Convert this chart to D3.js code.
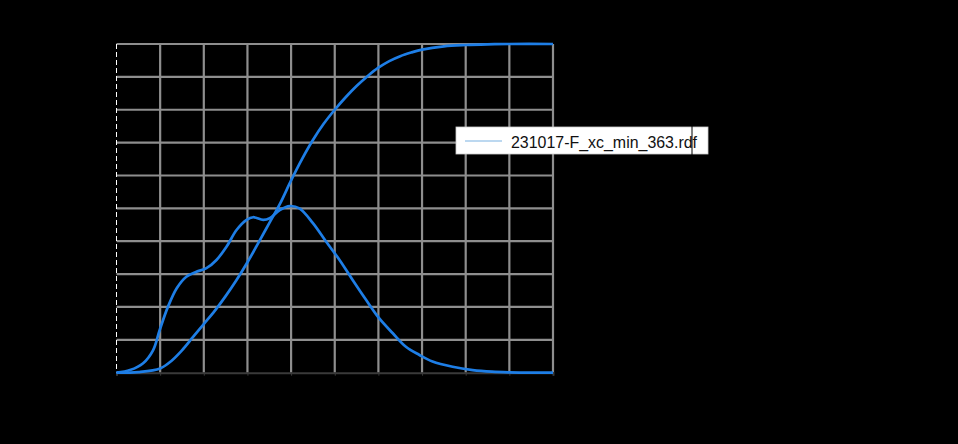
<!DOCTYPE html>
<html>
<head>
<meta charset="utf-8">
<script src="https://cdn.jsdelivr.net/npm/d3@7"></script>
<style>
  html, body { margin: 0; padding: 0; background: #000; }
  svg { display: block; }
</style>
</head>
<body>
<svg id="chart" width="958" height="444"></svg>
<script>
// ---- data (grid units: x 0..10, y 0..10) ----
const xTicks = [0, 1, 2, 3, 4, 5, 6, 7, 8, 9, 10];
const yTicks = [0, 1, 2, 3, 4, 5, 6, 7, 8, 9, 10];

const pdfX = [0, 0.31, 0.61, 0.84, 0.99, 1.18, 1.38, 1.60, 1.83, 2.06, 2.29, 2.52, 2.75, 2.98, 3.13, 3.36, 3.51, 3.74, 3.97, 4.19, 4.50, 4.80, 5.11, 5.41, 5.72, 6.02, 6.33, 6.63, 6.94, 7.24, 7.70, 8.16, 8.6, 9.0, 9.5, 10];
const pdfY = [0, 0.08, 0.29, 0.69, 1.30, 2.01, 2.57, 2.92, 3.07, 3.18, 3.43, 3.83, 4.34, 4.65, 4.73, 4.65, 4.70, 4.95, 5.07, 5.00, 4.55, 3.99, 3.43, 2.82, 2.21, 1.65, 1.20, 0.79, 0.54, 0.34, 0.18, 0.08, 0.03, 0.01, 0, 0];

const cdfX = [0, 0.5, 1, 1.25, 1.5, 1.75, 2, 2.25, 2.5, 2.75, 3, 3.25, 3.5, 3.75, 4, 4.25, 4.5, 4.75, 5, 5.25, 5.5, 5.75, 6, 6.25, 6.5, 6.75, 7, 7.5, 8, 8.5, 9, 10];
const cdfY = [0, 0.02, 0.13, 0.35, 0.68, 1.08, 1.48, 1.88, 2.33, 2.82, 3.36, 3.95, 4.55, 5.15, 5.85, 6.50, 7.08, 7.58, 8.0, 8.38, 8.72, 9.02, 9.28, 9.48, 9.63, 9.74, 9.83, 9.93, 9.97, 9.99, 10, 10];

const legendLabel = "231017-F_xc_min_363.rdf";

// ---- layout ----
const svg = d3.select("#chart");
const margin = { left: 116.5, top: 44, right: 958 - 553, bottom: 444 - 372.7 };
const W = 958, H = 444;

const x = d3.scaleLinear().domain([0, 10]).range([margin.left, W - margin.right]);
const y = d3.scaleLinear().domain([0, 10]).range([H - margin.bottom, margin.top]);

svg.append("rect").attr("width", W).attr("height", H).attr("fill", "#000");

// grid
const grid = svg.append("g");
grid.selectAll("line.v").data(xTicks.slice(1)).join("line")
  .attr("x1", d => x(d)).attr("x2", d => x(d))
  .attr("y1", y(10)).attr("y2", y(0))
  .attr("stroke", "#8e8e8e").attr("stroke-width", 2.2);
grid.selectAll("line.h").data(yTicks.slice(1)).join("line")
  .attr("x1", x(0)).attr("x2", x(10))
  .attr("y1", d => y(d)).attr("y2", d => y(d))
  .attr("stroke", "#8e8e8e").attr("stroke-width", 2.2);

// bottom axis
const xAxis = d3.axisBottom(x).tickValues(xTicks).tickSize(3).tickFormat("");
const gx = svg.append("g").attr("transform", `translate(0,${y(0)})`).call(xAxis);
gx.select(".domain").attr("stroke", "#3a3a3a").attr("stroke-width", 2);
gx.selectAll(".tick line").attr("stroke", "#3a3a3a");

// left axis (dashed light)
svg.append("line")
  .attr("x1", x(0)).attr("x2", x(0)).attr("y1", y(10)).attr("y2", y(0))
  .attr("stroke", "#ffffff").attr("stroke-width", 1).attr("stroke-dasharray", "5,3");

// curves
const line = d3.line().x(d => x(d[0])).y(d => y(d[1])).curve(d3.curveCatmullRom.alpha(0.5));
const pdf = pdfX.map((v, i) => [v, pdfY[i]]);
const cdf = cdfX.map((v, i) => [v, cdfY[i]]);

svg.append("path").datum(pdf).attr("d", line)
  .attr("fill", "none").attr("stroke", "#1e7ee6").attr("stroke-width", 2.7);
svg.append("path").datum(cdf).attr("d", line)
  .attr("fill", "none").attr("stroke", "#1e7ee6").attr("stroke-width", 2.7);

// legend
const lg = svg.append("g");
lg.append("rect").attr("x", 456).attr("y", 127).attr("width", 252).attr("height", 27)
  .attr("fill", "#ffffff").attr("stroke", "#cccccc").attr("stroke-width", 0.8);
lg.append("line").attr("x1", 465).attr("x2", 502).attr("y1", 141).attr("y2", 141)
  .attr("stroke", "#bcd8f0").attr("stroke-width", 2);
lg.append("text").attr("x", 511).attr("y", 147.5)
  .attr("font-family", "Liberation Sans, Arial, sans-serif").attr("font-size", 17)
  .attr("textLength", 186).attr("lengthAdjust", "spacingAndGlyphs")
  .attr("fill", "#111").text(legendLabel);
lg.append("line").attr("x1", 692).attr("x2", 692).attr("y1", 126).attr("y2", 155)
  .attr("stroke", "#000").attr("stroke-width", 1);
</script>
</body>
</html>
